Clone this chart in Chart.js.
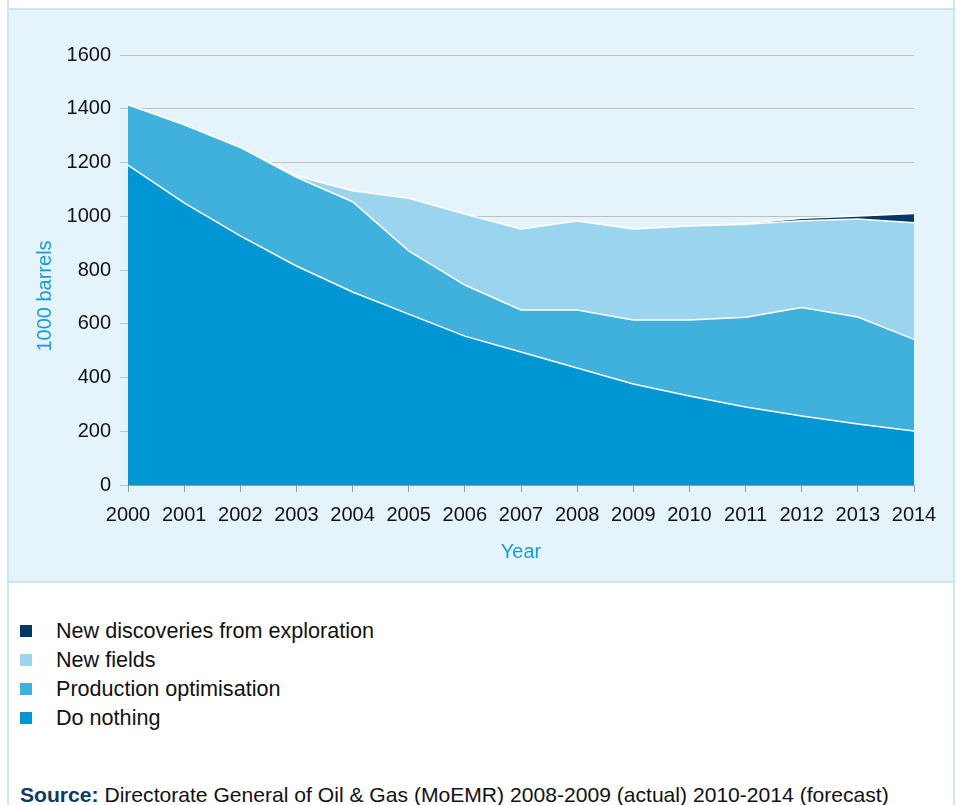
<!DOCTYPE html>
<html>
<head>
<meta charset="utf-8">
<script src="https://cdn.jsdelivr.net/npm/chart.js@4/dist/chart.umd.min.js"></script>
<style>
  html, body { margin: 0; padding: 0; background: #ffffff; width: 957px; height: 805px; overflow: hidden; }
  body { position: relative; font-family: "Liberation Sans", Arial, Helvetica, sans-serif; }
  .frame { position: absolute; left: 7px; top: -4px; width: 948px; height: 820px; box-sizing: border-box;
           border: 2px solid #cde8f5; }
  .panel { position: absolute; left: 9px; top: 8px; width: 944px; height: 575px; box-sizing: border-box;
           background: #e5f4fb; border-top: 2px solid #c9e6f4; border-bottom: 2px solid #c9e6f4; }
  #chart { position: absolute; left: 9px; top: 10px; }
  .legend { position: absolute; left: 20px; top: 616px; margin: 0; padding: 0; list-style: none; }
  .legend li { height: 29px; line-height: 29px; font-size: 21.6px; color: #111; position: relative; padding-left: 36px; white-space: nowrap; }
  .legend li span { position: absolute; left: 0; top: 9px; width: 12px; height: 12px; }
  .source { position: absolute; left: 20px; top: 783px; font-size: 21.1px; color: #111; white-space: nowrap; line-height: 24px; }
  .source b { color: #0d3b65; }
</style>
</head>
<body>
<div class="frame"></div>
<div class="panel"></div>
<canvas id="chart" width="944" height="571"></canvas>
<ul class="legend" id="legend"></ul>
<div class="source"><b>Source:</b> Directorate General of Oil &amp; Gas (MoEMR) 2008-2009 (actual) 2010-2014 (forecast)</div>
<script>
// Oil production outlook, thousand barrels, stacked by source
const years = ['2000','2001','2002','2003','2004','2005','2006','2007','2008','2009','2010','2011','2012','2013','2014'];
const doNothing =              [1190, 1050, 927, 815, 718, 636, 554, 495, 435, 376, 331, 290, 257, 227, 201];
const productionOptimisation = [ 225,  290, 329, 330, 336, 235, 190, 156, 216, 238, 283, 334, 403, 398, 341];
const newFields =              [   0,    0,   0,   5,  41, 196, 264, 302, 331, 339, 350, 346, 323, 365, 434];
const newDiscoveries =         [   0,    0,   0,   0,   0,   0,   0,   0,   0,   0,   0,   3,  10,  11,  34];
const yTicks = [0, 200, 400, 600, 800, 1000, 1200, 1400, 1600];

const seriesNames = ['Do nothing', 'Production optimisation', 'New fields', 'New discoveries from exploration'];
const seriesColors = ['#0096d4', '#40b0dd', '#9bd4ee', '#053766'];
const seriesValues = [doNothing, productionOptimisation, newFields, newDiscoveries];

const FONT = '"Liberation Sans", Arial, Helvetica, sans-serif';

const datasets = seriesValues.map((vals, i) => ({
  label: seriesNames[i],
  data: vals,
  backgroundColor: seriesColors[i],
  borderColor: '#ffffff',
  borderWidth: 1.5,
  pointRadius: 0,
  tension: 0,
  fill: i === 0 ? 'origin' : '-1'
}));

// Legend lists the series top of stack first
const legendEl = document.getElementById('legend');
for (let i = seriesNames.length - 1; i >= 0; i--) {
  const li = document.createElement('li');
  const sw = document.createElement('span');
  sw.style.background = seriesColors[i];
  li.appendChild(sw);
  li.appendChild(document.createTextNode(seriesNames[i]));
  legendEl.appendChild(li);
}

// Rotated y-axis caption, drawn beside the value labels
const yCaption = {
  id: 'yCaption',
  afterDraw(chart) {
    const { ctx, chartArea } = chart;
    ctx.save();
    ctx.translate(36, (chartArea.top + chartArea.bottom) / 2 + 26);
    ctx.rotate(-Math.PI / 2);
    ctx.font = '20px ' + FONT;
    ctx.fillStyle = '#1a9bd7';
    ctx.textAlign = 'center';
    ctx.textBaseline = 'middle';
    ctx.fillText('1000 barrels', 0, 0);
    ctx.restore();
  }
};

new Chart(document.getElementById('chart'), {
  type: 'line',
  data: { labels: years, datasets },
  plugins: [yCaption],
  options: {
    responsive: false,
    animation: false,
    devicePixelRatio: 1,
    layout: { padding: { left: 0, top: 45, right: 39, bottom: 0 } },
    plugins: { legend: { display: false }, tooltip: { enabled: false } },
    scales: {
      x: {
        type: 'category',
        offset: false,
        grid: { drawOnChartArea: false, drawTicks: true, tickLength: 7, color: '#9a9a9a', lineWidth: 1 },
        border: { display: true, color: '#9a9a9a', width: 1 },
        ticks: { color: '#111', font: { family: FONT, size: 20 }, padding: 11, maxRotation: 0, autoSkip: false },
        title: { display: true, text: 'Year', color: '#1a9bd7', font: { family: FONT, size: 20 }, padding: { top: 0, bottom: 17 } },
        afterFit(scale) { scale.height = 96; }
      },
      y: {
        stacked: true,
        min: 0,
        max: 1600,
        afterBuildTicks(scale) { scale.ticks = yTicks.map(v => ({ value: v })); },
        grid: { color: '#c0c0c0', lineWidth: 1, drawTicks: true, tickLength: 8 },
        border: { display: false },
        ticks: { color: '#111', font: { family: FONT, size: 20 }, padding: 9, callback: (v) => String(v) },
        afterFit(scale) { scale.width = 119; }
      }
    }
  }
});
</script>
</body>
</html>
